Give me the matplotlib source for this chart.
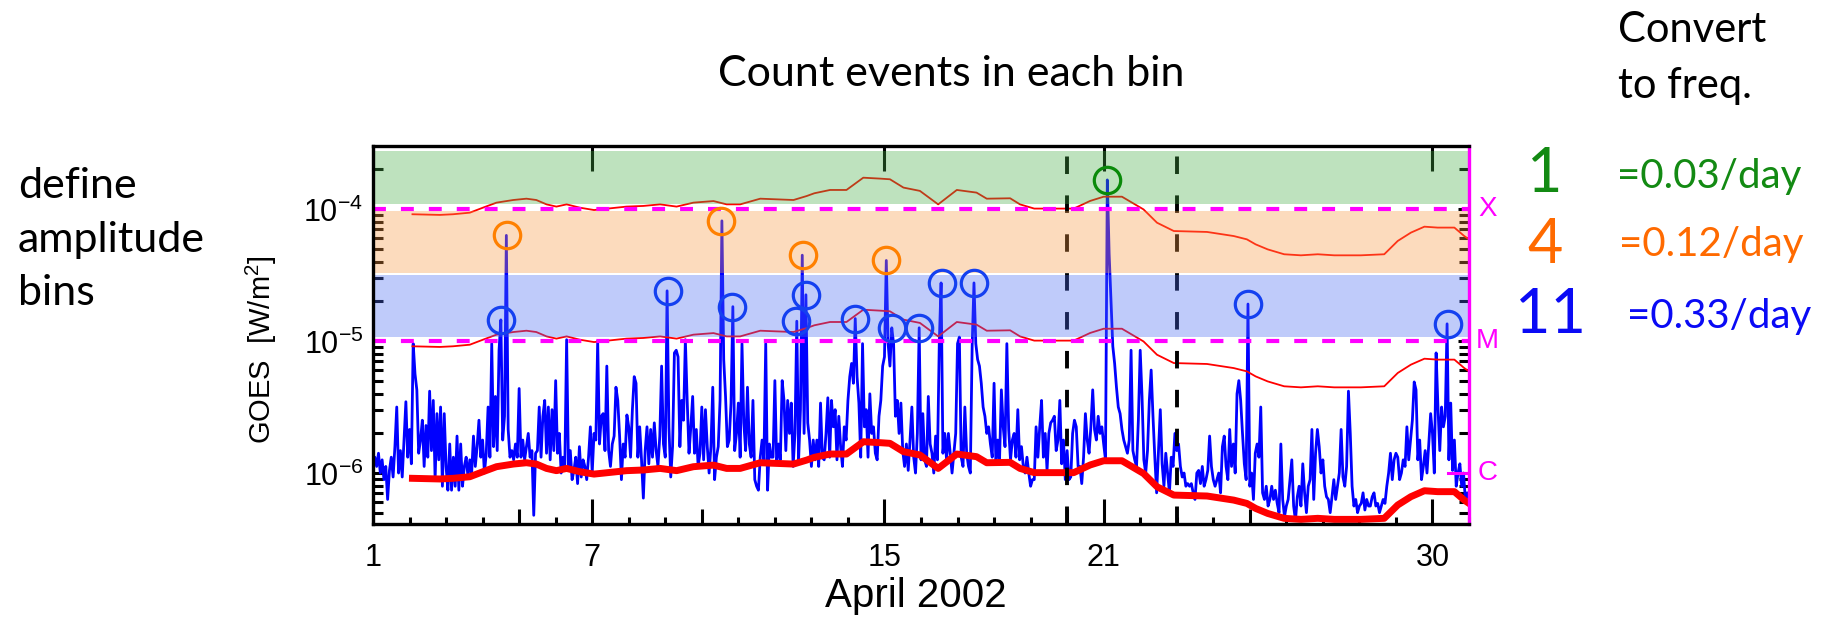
import matplotlib
matplotlib.use('Agg')
import matplotlib.pyplot as plt
import matplotlib.transforms as mtransforms
from matplotlib.ticker import FixedLocator, FixedFormatter, LogLocator, NullFormatter, MultipleLocator
import numpy as np

# GOES flux, log10(W/m^2), one value every 0.05 day, April 1 -> May 1 2002
goes_log = [
    -5.93, -5.88, -5.95, -5.85, -6.00, -5.90, -6.05, -5.95, -6.20, -5.98, -5.88, -6.03, -5.80, -5.50, -6.00, -5.83, -6.03, -5.75, -5.46, -5.88,
    -5.67, -5.93, -5.02, -5.25, -5.37, -5.85, -5.75, -5.60, -5.95, -5.64, -5.88, -5.38, -5.83, -5.45, -6.05, -5.55, -5.90, -5.50, -6.10, -5.55,
    -5.95, -6.13, -5.78, -6.13, -5.88, -6.10, -5.72, -6.13, -5.78, -6.10, -5.95, -5.88, -6.03, -5.90, -6.00, -5.72, -5.95, -5.80, -5.60, -5.88,
    -5.75, -6.00, -5.85, -5.50, -5.88, -5.02, -5.80, -5.42, -5.83, -5.07, -4.84, -5.75, -5.57, -4.20, -5.67, -5.88, -5.83, -5.90, -5.78, -5.88,
    -5.36, -5.88, -5.75, -5.90, -5.80, -5.70, -5.88, -5.83, -6.32, -5.85, -5.83, -5.50, -5.88, -5.57, -5.45, -5.85, -5.50, -5.90, -5.52, -5.83,
    -5.30, -5.85, -5.70, -6.00, -5.88, -5.95, -4.99, -5.95, -5.83, -6.05, -5.98, -5.88, -6.08, -5.80, -6.03, -5.90, -5.95, -6.05, -5.88, -5.65,
    -6.00, -5.70, -5.75, -5.00, -5.78, -5.57, -5.55, -5.83, -5.19, -5.83, -5.95, -5.78, -5.72, -5.35, -5.45, -5.72, -6.05, -5.78, -5.88, -5.56,
    -5.65, -5.88, -5.52, -5.27, -5.32, -5.88, -5.65, -5.90, -6.19, -5.83, -5.65, -5.93, -5.67, -5.88, -5.62, -5.83, -5.95, -5.72, -5.19, -5.78,
    -5.88, -4.62, -5.65, -6.03, -5.80, -5.09, -5.07, -5.12, -5.80, -5.45, -5.60, -4.99, -5.45, -5.85, -5.65, -5.42, -5.85, -5.67, -5.95, -5.85,
    -5.50, -5.90, -5.52, -5.80, -6.00, -5.80, -5.35, -6.05, -5.88, -5.80, -5.45, -4.09, -5.14, -5.42, -5.80, -5.75, -5.47, -4.74, -5.83, -5.70,
    -5.47, -5.88, -5.02, -5.62, -5.83, -5.35, -5.78, -5.88, -5.45, -6.05, -6.10, -6.13, -5.88, -5.75, -5.90, -5.02, -6.13, -5.78, -5.88, -5.88,
    -5.30, -5.93, -5.78, -5.90, -5.30, -5.45, -5.83, -5.45, -5.70, -5.47, -5.95, -5.70, -4.85, -5.90, -5.52, -4.35, -5.70, -4.65, -5.62, -5.75,
    -5.95, -5.75, -5.90, -5.75, -5.95, -5.47, -5.88, -5.90, -5.70, -5.43, -5.88, -5.45, -5.65, -5.52, -5.90, -5.57, -5.80, -5.95, -5.65, -5.75,
    -5.45, -5.27, -5.17, -5.32, -4.83, -5.27, -5.47, -5.88, -5.02, -5.65, -5.52, -5.88, -5.40, -5.70, -5.65, -5.85, -5.90, -5.57, -5.45, -5.19,
    -5.12, -4.39, -5.02, -5.19, -4.90, -5.02, -5.57, -5.45, -5.70, -5.47, -5.83, -5.95, -5.78, -5.98, -5.75, -5.50, -5.88, -6.00, -5.70, -4.90,
    -5.90, -5.55, -5.90, -5.95, -5.42, -5.78, -5.85, -6.00, -5.72, -5.90, -5.02, -4.56, -5.85, -5.70, -5.90, -5.70, -5.85, -6.00, -5.85, -5.70,
    -5.02, -4.97, -5.88, -5.95, -5.50, -5.85, -5.95, -6.00, -5.04, -4.56, -5.02, -5.14, -5.19, -5.32, -5.50, -5.57, -5.70, -5.65, -5.78, -5.88,
    -5.32, -5.93, -5.75, -5.90, -5.37, -5.65, -5.80, -5.02, -5.67, -5.90, -5.75, -5.70, -5.88, -5.52, -5.90, -5.80, -5.95, -6.00, -5.88, -6.00,
    -6.10, -6.05, -6.05, -5.65, -5.88, -5.65, -5.45, -5.88, -5.70, -5.98, -5.70, -5.62, -5.60, -5.57, -5.83, -5.75, -5.45, -5.93, -5.75, -6.05,
    -5.83, -6.05, -6.03, -5.70, -5.60, -5.65, -5.95, -5.95, -6.08, -5.88, -5.55, -5.75, -5.85, -5.65, -5.37, -5.67, -5.75, -5.57, -5.70, -5.65,
    -5.78, -5.90, -3.78, -4.34, -4.70, -5.04, -5.17, -5.35, -5.50, -5.55, -5.67, -5.75, -5.80, -5.85, -5.75, -5.07, -5.83, -5.90, -5.95, -5.60,
    -5.07, -5.42, -5.90, -6.00, -5.83, -5.45, -5.22, -5.57, -5.88, -6.15, -5.83, -5.52, -5.93, -6.10, -5.85, -6.00, -6.15, -5.88, -5.95, -5.70,
    -5.83, -5.78, -5.95, -6.03, -6.00, -6.10, -6.08, -6.10, -6.08, -6.15, -6.20, -6.00, -5.98, -6.08, -5.95, -6.10, -6.05, -5.98, -5.72, -5.95,
    -6.05, -6.10, -6.05, -6.00, -6.15, -5.80, -5.72, -5.95, -6.05, -5.67, -5.95, -5.78, -6.00, -5.40, -5.30, -5.45, -5.70, -5.93, -6.05, -4.72,
    -6.10, -6.00, -6.20, -5.85, -5.78, -5.88, -5.50, -6.15, -6.20, -6.10, -6.25, -6.20, -6.10, -6.20, -6.13, -6.23, -6.30, -5.78, -6.20, -6.33,
    -6.25, -6.20, -6.05, -5.90, -6.25, -6.36, -6.18, -6.10, -6.25, -5.93, -6.15, -6.30, -6.10, -6.05, -5.67, -6.20, -5.85, -5.67, -5.80, -6.00,
    -5.90, -6.10, -6.18, -6.20, -6.30, -6.18, -6.05, -6.20, -6.10, -6.00, -5.67, -6.03, -6.10, -5.95, -5.38, -5.70, -6.10, -6.25, -6.20, -6.30,
    -6.25, -6.23, -6.15, -6.28, -6.20, -6.25, -6.25, -6.18, -6.15, -6.25, -6.23, -6.30, -6.25, -6.20, -6.23, -6.10, -6.00, -5.85, -6.05, -5.90,
    -5.85, -5.88, -6.05, -6.00, -5.90, -5.95, -5.65, -5.90, -5.75, -5.60, -5.31, -5.37, -5.90, -5.75, -6.05, -5.95, -5.83, -6.00, -5.78, -5.55,
    -5.70, -6.00, -5.09, -5.50, -5.83, -5.50, -5.65, -5.57, -4.87, -5.90, -5.47, -5.98, -5.75, -6.10, -6.00, -5.93, -6.10, -6.00, -6.20, -6.15,
    -6.20,
]

# background level (log10 W/m^2)
bg_day = [2.08, 2.83, 3.19, 3.65, 4.01, 4.38, 4.84, 5.20, 5.47, 5.75,
          6.02, 6.30, 6.66, 7.05, 7.94, 8.40, 8.86, 9.31, 9.77, 10.32,
          10.68, 11.05, 11.60, 12.05, 12.51, 12.87, 13.08, 13.51, 13.96, 14.42,
          14.88, 15.15, 15.52, 15.97, 16.47, 16.98, 17.52, 17.80, 18.44, 18.71,
          19.10, 20.18, 20.63, 21.00, 21.50, 22.09, 22.46, 22.92, 23.83, 24.56,
          24.92, 25.16, 25.49, 25.94, 26.40, 26.86, 27.31, 28.04, 28.68, 29.05,
          29.41, 29.78, 30.14, 30.60, 30.87, 31.0]
bg_log = [-6.04, -6.045, -6.04, -6.028, -5.99, -5.952, -5.932, -5.922, -5.932, -5.965,
          -5.982, -5.965, -5.99, -6.008, -5.982, -5.977, -5.965, -5.982, -5.952, -5.94,
          -5.965, -5.965, -5.922, -5.927, -5.932, -5.902, -5.881, -5.856, -5.856, -5.763,
          -5.770, -5.775, -5.838, -5.863, -5.965, -5.856, -5.876, -5.922, -5.919, -5.965,
          -5.997, -5.997, -5.939, -5.907, -5.907, -6.003, -6.104, -6.167, -6.174, -6.205,
          -6.23, -6.268, -6.306, -6.343, -6.351, -6.343, -6.351, -6.351, -6.343, -6.242,
          -6.179, -6.134, -6.141, -6.141, -6.205, -6.23]

# detected events (peak time in day of April, log10 peak flux)
blue_day = [4.51, 9.07, 10.84, 12.59, 12.84, 14.19, 15.21, 15.95, 16.57, 17.45, 24.96, 30.42]
blue_log = [-4.84, -4.62, -4.74, -4.85, -4.65, -4.83, -4.90, -4.90, -4.56, -4.56, -4.72, -4.87]
orange_day = [4.66, 10.53, 12.77, 15.04]
orange_log = [-4.20, -4.09, -4.35, -4.39]
green_day = [21.09]
green_log = [-3.78]

# amplitude bins (low -> high) and the counts in each
bin_edges = [1e-5, 10 ** -4.5, 1e-4, 3e-4]
bin_counts = ['11', '4', '1']
bin_rates = ['=0.33/day', '=0.12/day', '=0.03/day']

class_levels = [1e-6, 1e-5, 1e-4]
class_labels = ['C', 'M', 'X']
day_ticks = [1, 7, 15, 21, 30]
mid_ticks = [5, 10, 20, 25]
window_days = [20, 23]

plt.rcParams['font.family'] = ['Lato', 'DejaVu Sans']
plt.rcParams['mathtext.fontset'] = 'custom'
plt.rcParams['mathtext.rm'] = 'Liberation Sans'
plt.rcParams['mathtext.it'] = 'Liberation Sans'
idl_font = ['Liberation Sans Narrow', 'Liberation Sans', 'DejaVu Sans']

W, H = 1841, 621
fig = plt.figure(figsize=(W / 100, H / 100), dpi=100)
ax = fig.add_axes([373 / W, 1 - 524 / H, (1469 - 373) / W, (524 - 146) / H])

goes_day = np.linspace(1, 31, len(goes_log))
flux = 10 ** np.array(goes_log)
bg = 10 ** np.array(bg_log)

# data
ax.plot(goes_day, flux, color='#0000ff', lw=2.0, zorder=2)
ax.plot(bg_day, bg * 10, color='#ff0000', lw=1.3, zorder=2.2)
ax.plot(bg_day, bg * 100, color='#ff0000', lw=1.3, zorder=2.2)
ax.plot(bg_day, bg, color='#ff0000', lw=5, zorder=2.2)

for d in window_days:
    ax.axvline(d, color='black', lw=2.8, ls=(0, (4.5, 5.5)), zorder=2.3)

# amplitude bins, drawn see-through over the data
band_colors = ['#486af3', '#f99842', '#45ac45']
insets = [(1.07, 1.0), (1.035, 0.97), (1.09, 0.917)]
for i in range(3):
    lo, hi = bin_edges[i], bin_edges[i + 1]
    ax.axhspan(lo * insets[i][0], hi * insets[i][1], color=band_colors[i], alpha=0.35, lw=0, zorder=3)

for lvl in class_levels[1:]:
    ax.axhline(lvl, color='#ff00ff', lw=3, ls=(0, (3.1, 3.6)), zorder=4)
ax.axhline(class_levels[0], xmin=0.981, xmax=1, color='#ff00ff', lw=2.2, zorder=4)

# event circles
ax.plot(blue_day, 10 ** np.array(blue_log), 'o', mfc='none', mec='#1440f0', ms=19, mew=2.3, zorder=5)
ax.plot(orange_day, 10 ** np.array(orange_log), 'o', mfc='none', mec='#ff8000', ms=19, mew=2.3, zorder=5)
ax.plot(green_day, 10 ** np.array(green_log), 'o', mfc='none', mec='#0a8a0a', ms=19, mew=2.3, zorder=5)

ax.set_yscale('log')
ax.set_xlim(1, 31)
ax.set_ylim(10 ** -6.386, 10 ** -3.523)

# axes frame
for side in ['left', 'bottom', 'top']:
    ax.spines[side].set_linewidth(2.4)
    ax.spines[side].set_zorder(6)
ax.spines['right'].set_color('#ff00ff')
ax.spines['right'].set_linewidth(2.4)
ax.spines['right'].set_zorder(6)

# y ticks
ax.yaxis.set_major_locator(FixedLocator(class_levels))
ax.yaxis.set_major_formatter(FixedFormatter(['$10^{%d}$' % round(np.log10(v)) for v in class_levels]))
ax.yaxis.set_minor_locator(LogLocator(base=10, subs=np.arange(2, 10), numticks=12))
ax.yaxis.set_minor_formatter(NullFormatter())
ax.tick_params(axis='y', which='major', direction='in', left=True, right=True, length=8, width=2.2, pad=7, labelsize=22)
ax.tick_params(axis='y', which='minor', direction='in', left=True, right=True, length=7, width=2.2)

# x ticks: long labelled, medium, and one per day
all_ticks = sorted(day_ticks + mid_ticks)
ax.set_xticks(all_ticks)
ax.set_xticklabels([str(d) if d in day_ticks else '' for d in all_ticks], family=idl_font, fontsize=22)
ax.xaxis.set_minor_locator(MultipleLocator(1))
ax.tick_params(axis='x', which='major', direction='in', bottom=True, top=True, length=18, width=2.2, pad=14)
ax.tick_params(axis='x', which='minor', direction='in', bottom=True, top=False, length=5, width=2.2)
for d, tick in zip(all_ticks, ax.xaxis.get_major_ticks()):
    if d in mid_ticks:
        tick.tick1line.set_markersize(11)
        tick.tick2line.set_visible(False)

# GOES class letters on the right
trans = mtransforms.blended_transform_factory(ax.transAxes, ax.transData)
for lvl, lab in zip(class_levels, class_labels):
    ax.text(1.017, lvl, lab, transform=trans, color='#ff00ff', fontsize=20, family=idl_font,
            ha='center', va='center', clip_on=False)

fig.text(261 / W, 1 - 350 / H, 'GOES  [W/m$^2$]', rotation=90, ha='center', va='center',
         fontsize=21, family=idl_font)
fig.text(916 / W, 1 - 596 / H, 'April 2002', ha='center', va='center', fontsize=29, family=idl_font)

# annotations
fig.text(951 / W, 1 - 86 / H, 'Count events in each bin', ha='center', va='baseline', fontsize=31)
for txt, yb in zip(['define', 'amplitude', 'bins'], [198, 252, 305]):
    fig.text(18 / W, 1 - yb / H, txt, ha='left', va='baseline', fontsize=31)
fig.text(1618 / W, 1 - 42 / H, 'Convert', ha='left', va='baseline', fontsize=30)
fig.text(1618 / W, 1 - 98 / H, 'to freq.', ha='left', va='baseline', fontsize=30)

text_colors = ['#0a0af5', '#ff6a00', '#138a13']
count_x = [1550, 1545, 1545]
count_y = [333, 263, 192]
rate_x = [1627, 1619, 1617]
rate_y = [328, 256, 188]
for i in range(3):
    fig.text(count_x[i] / W, 1 - count_y[i] / H, bin_counts[i], color=text_colors[i],
             ha='center', va='baseline', fontsize=44)
    fig.text(rate_x[i] / W, 1 - rate_y[i] / H, bin_rates[i], color=text_colors[i],
             ha='left', va='baseline', fontsize=29)

fig.savefig('out.png', dpi=100)
